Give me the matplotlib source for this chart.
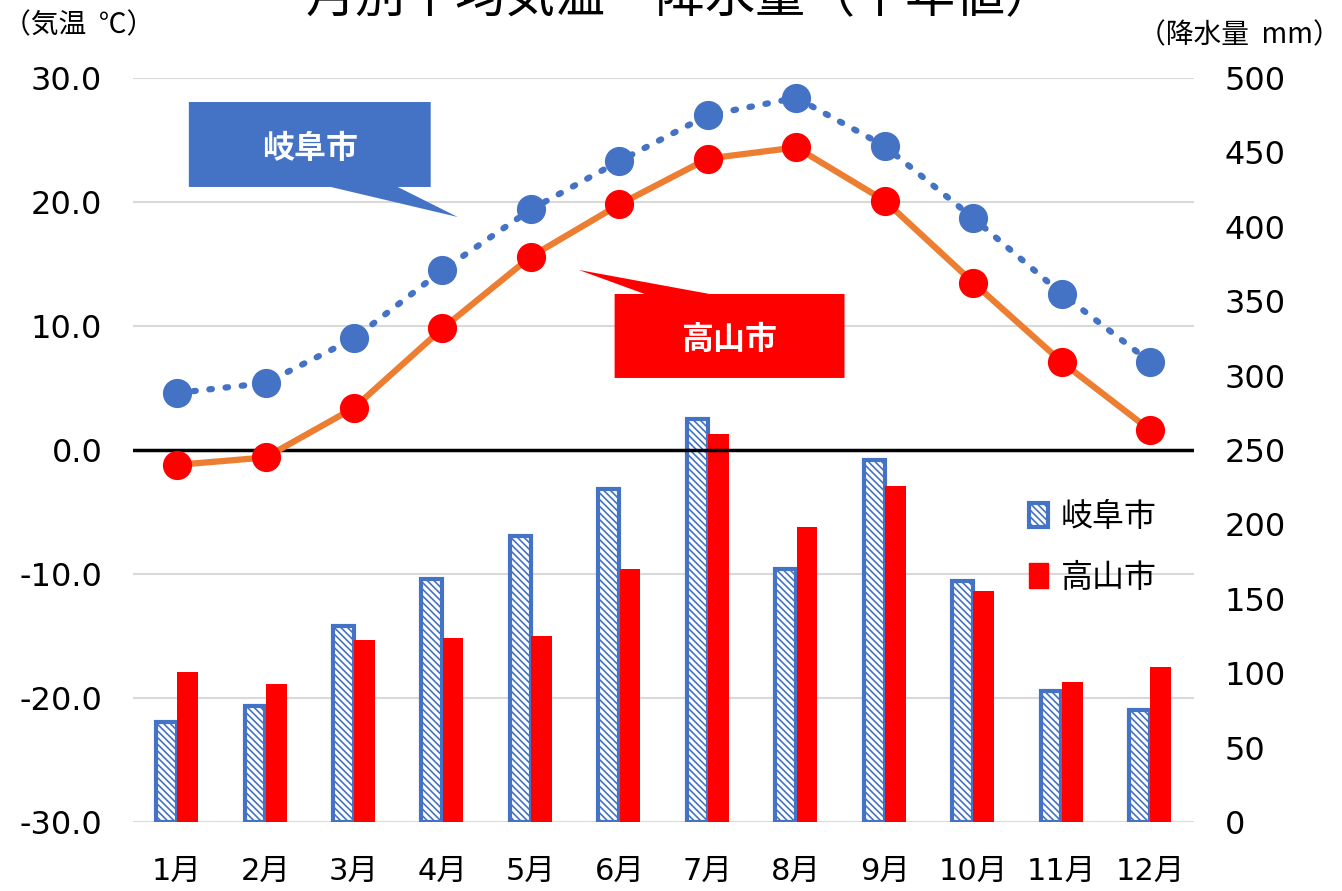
import numpy as np
import matplotlib.pyplot as plt
from matplotlib.patches import Polygon, Patch

plt.rcParams['font.family'] = ['Noto Sans CJK JP', 'DejaVu Sans']
plt.rcParams['hatch.linewidth'] = 1.2

months = ['1月', '2月', '3月', '4月', '5月', '6月', '7月', '8月', '9月', '10月', '11月', '12月']
gifu_temp = [4.6, 5.4, 9.0, 14.5, 19.4, 23.3, 27.0, 28.4, 24.5, 18.7, 12.6, 7.1]
takayama_temp = [-1.2, -0.6, 3.4, 9.8, 15.6, 19.8, 23.5, 24.4, 20.1, 13.5, 7.1, 1.6]
gifu_rain = [67, 78, 132, 163, 192, 224, 271, 170, 243, 162, 88, 75]
takayama_rain = [101, 93, 122, 124, 125, 170, 261, 198, 226, 155, 94, 104]

blue = '#4472C4'
red = '#FF0000'
orange = '#ED7D31'
num_font = ['DejaVu Sans', 'Noto Sans CJK JP']

fig = plt.figure(figsize=(13.42, 8.91), dpi=100)
ax = fig.add_axes([0.099, 0.0774, 0.791, 0.8351])
ax2 = ax.twinx()
ax3 = ax.twinx()
x = np.arange(len(months))

# temperature axis (left) - grid only
ax.set_xlim(-0.5, 11.5)
ax.set_ylim(-30, 30)
ax.set_yticks(np.arange(-30, 31, 10))
ax.set_yticklabels(['%.1f' % v for v in np.arange(-30, 31, 10)], fontsize=23, family=num_font)
ax.grid(axis='y', color='#D9D9D9', lw=1.5)
ax.set_xticks(x)
ax.set_xticklabels(months, fontsize=22, family=num_font)
ax.tick_params(axis='y', length=0, pad=22)
ax.tick_params(axis='x', length=0, pad=25)
for s in ax.spines.values():
    s.set_visible(False)

# precipitation bars (right)
w = 0.235
ax2.bar(x - 0.12, gifu_rain, w, color='white', edgecolor=blue, lw=3, hatch='\\\\\\\\\\', zorder=2)
ax2.bar(x + 0.12, takayama_rain, w, color=red, zorder=2)
ax2.set_ylim(0, 500)
ax2.set_yticks(np.arange(0, 501, 50))
ax2.set_yticklabels([str(v) for v in np.arange(0, 501, 50)], fontsize=23, family=num_font)
ax2.tick_params(length=0, pad=22)
for s in ax2.spines.values():
    s.set_visible(False)

# temperature lines on top
ax3.set_ylim(-30, 30)
ax3.set_yticks([])
for s in ax3.spines.values():
    s.set_visible(False)
ax3.axhline(0, color='black', lw=2.5)
ax3.plot(x, gifu_temp, color=blue, ls=(0, (0.4, 2.2)), lw=4.5, dash_capstyle='round',
         marker='o', ms=20, mfc=blue, mec=blue)
ax3.plot(x, takayama_temp, color=orange, lw=4.5, marker='o', ms=20, mfc=red, mec=red)

# callouts
ax3.add_patch(Polygon([(0.133, 28.06), (2.867, 28.06), (2.867, 21.21), (2.494, 21.21),
                       (3.172, 18.79), (1.737, 21.21), (0.133, 21.21)],
                      closed=True, fc=blue, ec='none', zorder=5))
ax3.text(1.5, 24.3, '岐阜市', color='white', fontsize=23, fontweight='bold',
         ha='center', va='center', zorder=6)
ax3.add_patch(Polygon([(4.946, 12.58), (5.285, 12.58), (4.54, 14.52), (6.02, 12.58),
                       (7.545, 12.58), (7.545, 5.81), (4.946, 5.81)],
                      closed=True, fc=red, ec='none', zorder=5))
ax3.text(6.245, 8.9, '高山市', color='white', fontsize=23, fontweight='bold',
         ha='center', va='center', zorder=6)

handles = [Patch(facecolor='white', edgecolor=blue, lw=3, hatch='\\\\\\\\\\'),
           Patch(facecolor=red, edgecolor=red)]
fig.legend(handles, ['岐阜市', '高山市'], loc='upper left', bbox_to_anchor=(0.745, 0.47),
           frameon=False, fontsize=23, handlelength=0.6, handleheight=0.8,
           handletextpad=0.4, labelspacing=0.9)

fig.text(0.002, 0.972, '（気温  ℃）', fontsize=20, ha='left', va='center')
fig.text(0.999, 0.960, '（降水量  mm）', fontsize=20, ha='right', va='center')
fig.text(0.507, 1 - 12 / 891, '月別平均気温・降水量（平年値）', fontsize=36, ha='center', va='baseline')

fig.savefig('out.png', dpi=100)
